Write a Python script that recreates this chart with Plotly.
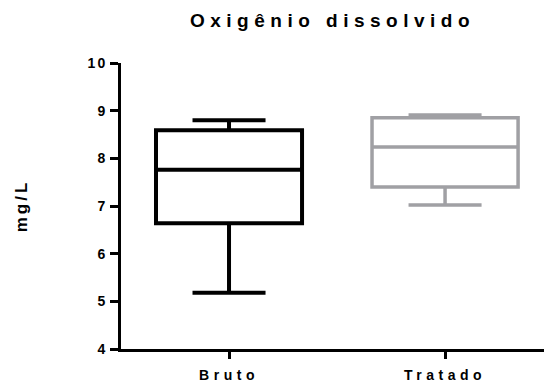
import plotly.graph_objects as go

categories = ["Bruto", "Tratado"]
lower = [5.18, 7.02]
q1 = [6.64, 7.40]
median = [7.76, 8.24]
q3 = [8.59, 8.85]
upper = [8.80, 8.91]
colors = ["#000000", "#a0a0a4"]
line_widths = [4, 3.5]

FONT = "Liberation Sans, Arial, sans-serif"

fig = go.Figure()
for i, cat in enumerate(categories):
    fig.add_trace(go.Box(
        x=[cat], q1=[q1[i]], median=[median[i]], q3=[q3[i]],
        lowerfence=[lower[i]], upperfence=[upper[i]],
        width=0.676, whiskerwidth=0.5,
        line=dict(color=colors[i], width=line_widths[i]),
        fillcolor="white", boxpoints=False, showlegend=False,
    ))

fig.update_layout(
    width=544, height=385,
    margin=dict(l=121, r=0, t=63, b=36),
    plot_bgcolor="white", paper_bgcolor="white",
    boxmode="overlay",
    title=dict(text="<b>Oxigênio dissolvido</b>", x=0.5, xref="paper",
               y=1 - 20 / 385, yref="container", yanchor="middle",
               font=dict(family=FONT, size=19, color="black")),
    xaxis=dict(type="category", range=[-0.5, 1.458], showline=True, automargin=False,
               linecolor="black", linewidth=3, ticks="outside", ticklen=7,
               tickwidth=3, tickcolor="black", showgrid=False, zeroline=False,
               ticklabelstandoff=4,
               tickfont=dict(family=FONT, size=14, color="black", weight="bold")),
    yaxis=dict(range=[4, 10], tickvals=[4, 5, 6, 7, 8, 9, 10], showline=True, automargin=False,
               linecolor="black", linewidth=3, ticks="outside", ticklen=8,
               tickwidth=3, tickcolor="black", showgrid=False, zeroline=False,
               tickfont=dict(family=FONT, size=14, color="black", weight="bold"),
               title=dict(text="<b>mg/L</b>", standoff=60,
                          font=dict(family=FONT, size=17, color="black"))),
)

post = """
document.body.style.margin='0';
document.body.style.padding='0';
function ls(){
  document.querySelectorAll('.gtitle').forEach(function(e){e.style.letterSpacing='5.5px';});
  document.querySelectorAll('.xtick text').forEach(function(e){e.style.letterSpacing='4.5px';});
  document.querySelectorAll('.ytitle').forEach(function(e){e.style.letterSpacing='3px';});
  document.querySelectorAll('.ytick text').forEach(function(e){e.style.letterSpacing='2px';});
}
ls();
"""
fig.write_html("out.html", post_script=post, config={"displayModeBar": False})
